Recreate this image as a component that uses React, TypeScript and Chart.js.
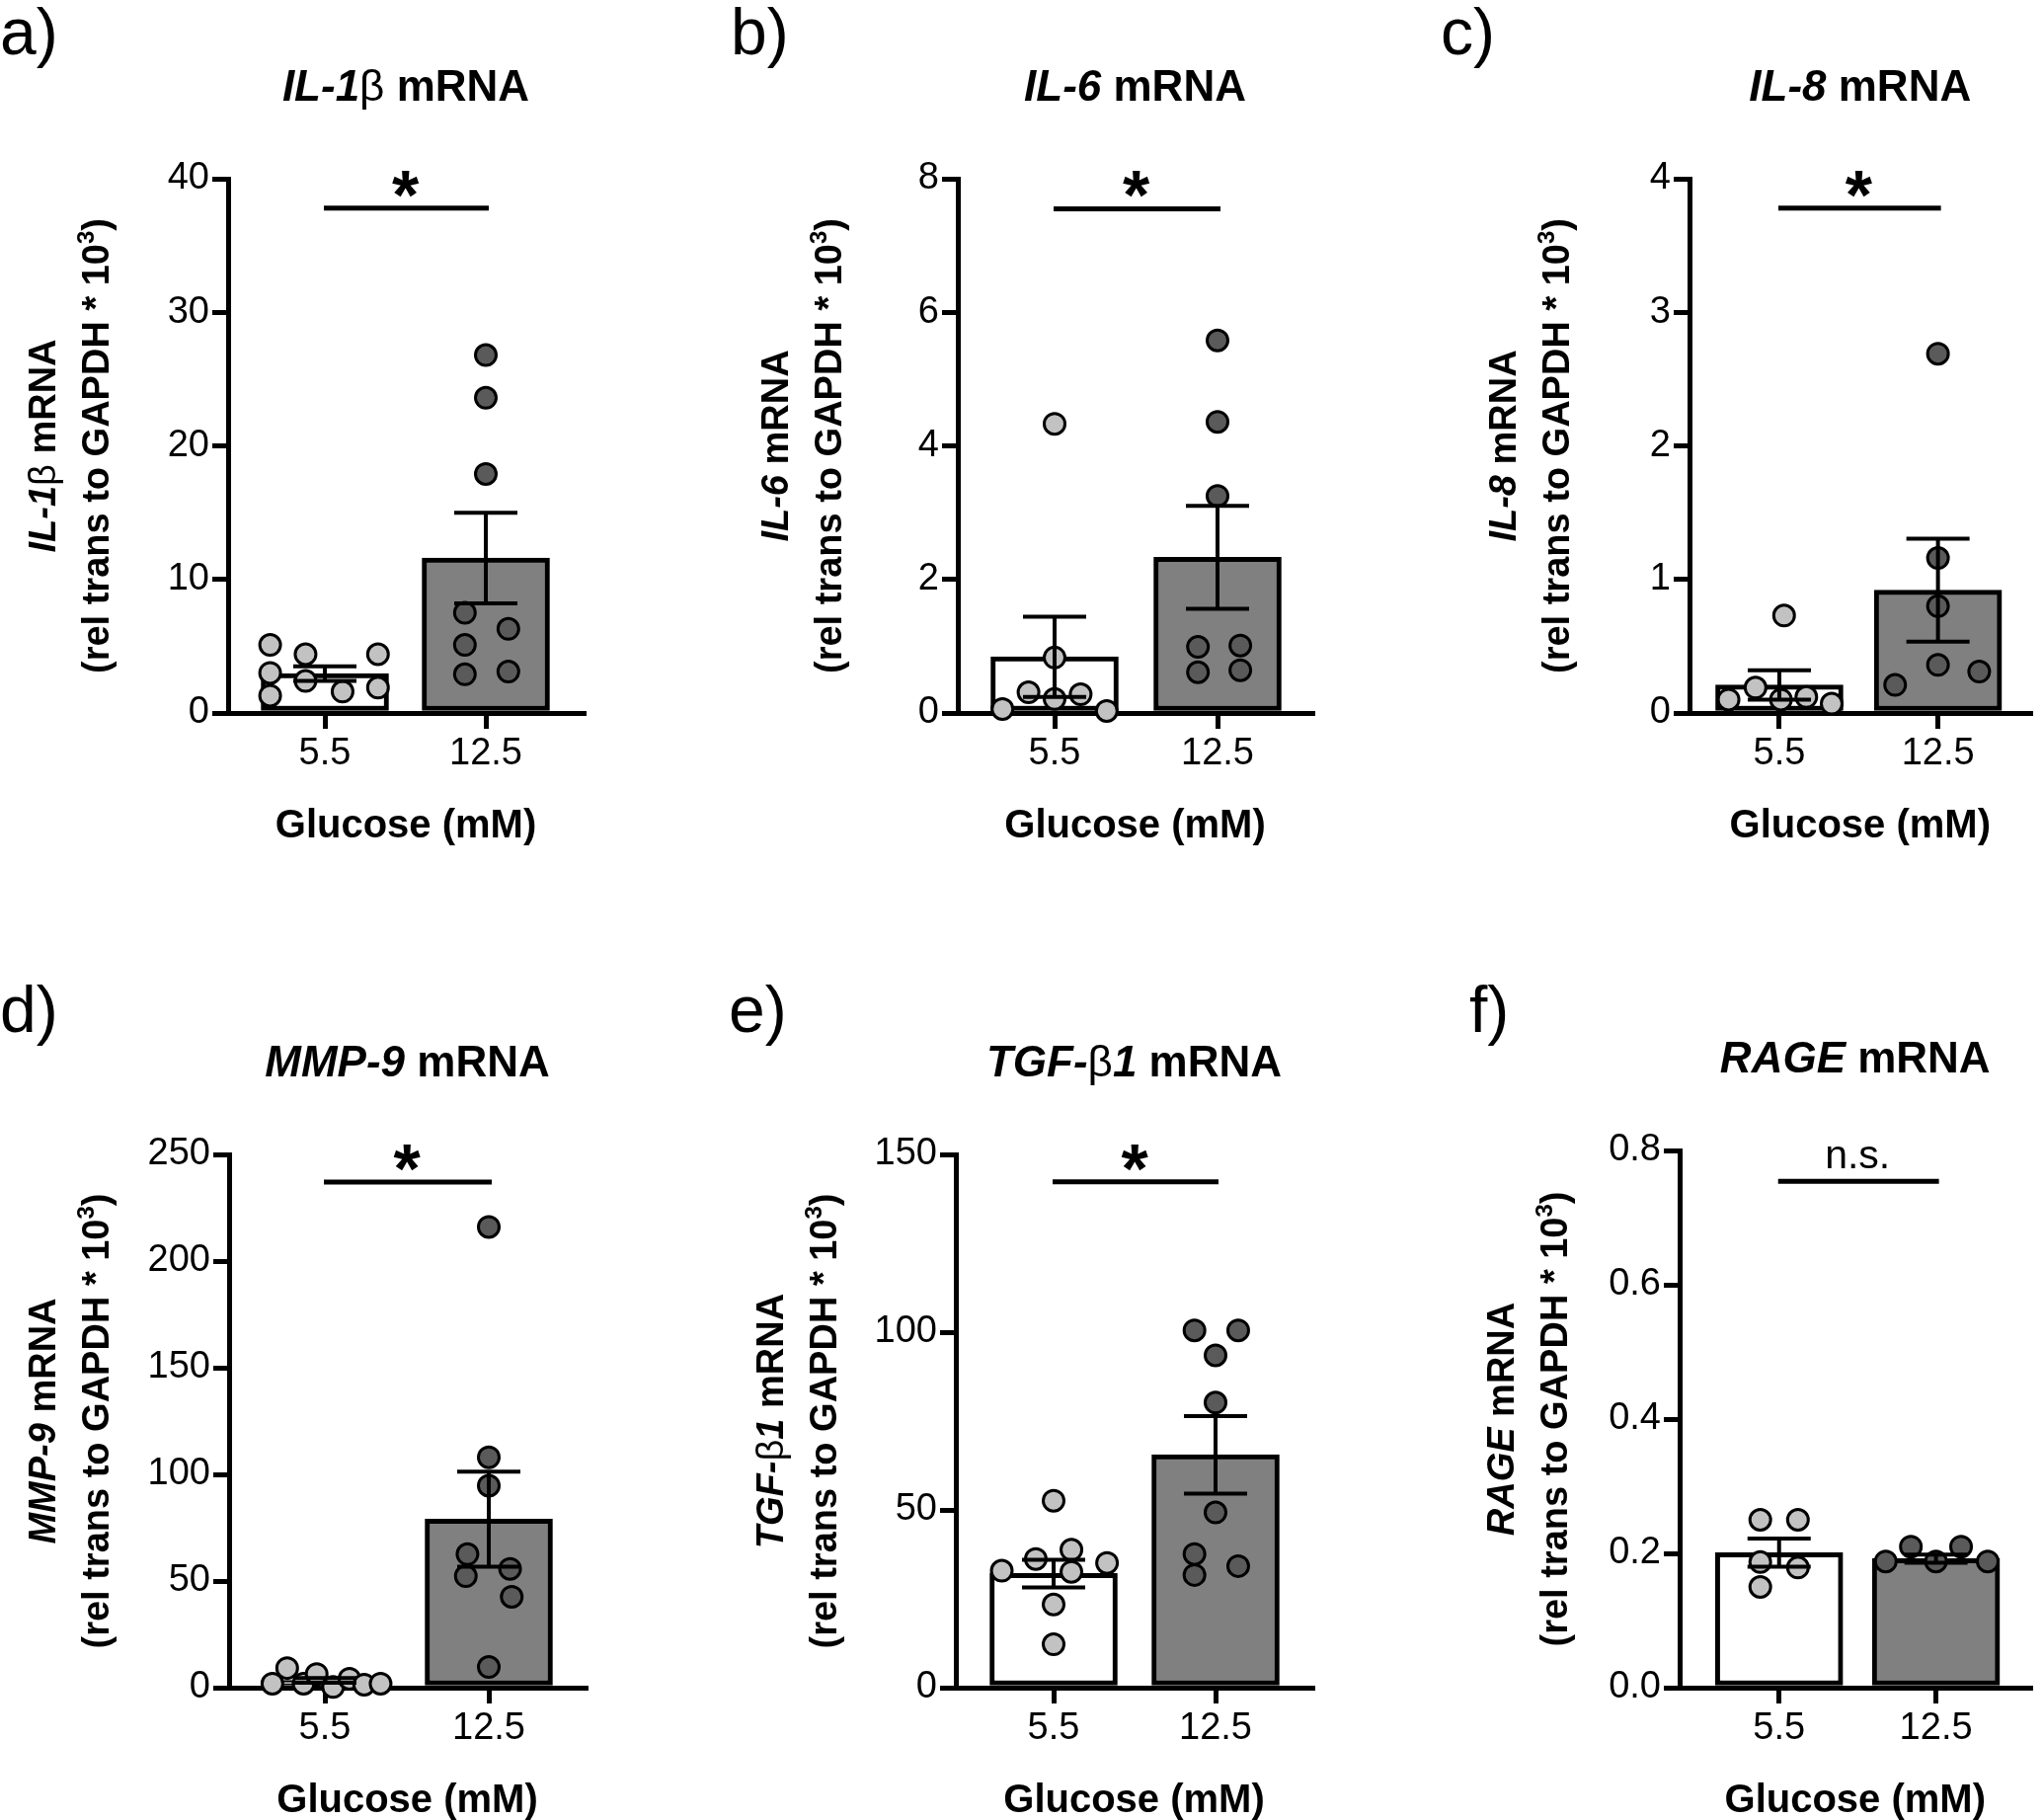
import React, { useEffect, useRef } from 'react';
import { Chart, registerables } from 'chart.js';

Chart.register(...registerables);

const FONT = '"Liberation Sans", Arial, Helvetica, sans-serif';

// ---------- data ----------
const GROUPS = ['5.5', '12.5'];
const X_AXIS_TITLE = 'Glucose (mM)';
const Y_TITLE_LINE2 = [['(rel trans to GAPDH * 10', 'b'], ['3', 'bs'], [')', 'b']];

// a) IL-1β
const IL1B_TITLE = [['IL-1', 'bi'], ['β', 'r'], [' mRNA', 'b']];
const IL1B_MEAN = [2.95, 11.6];
const IL1B_SEM = [0.55, 3.4];
const IL1B_LOW = [5.1, 4.4, 4.4, 3.0, 2.4, 1.9, 1.6, 1.3];
const IL1B_LOW_X = [-0.34, -0.12, 0.33, -0.34, -0.12, 0.33, 0.11, -0.34];
const IL1B_HIGH = [26.8, 23.6, 17.9, 7.5, 6.3, 5.1, 2.9, 3.1];
const IL1B_HIGH_X = [0, 0, 0, -0.13, 0.14, -0.13, -0.13, 0.14];

// b) IL-6
const IL6_TITLE = [['IL-6', 'bi'], [' mRNA', 'b']];
const IL6_MEAN = [0.84, 2.33];
const IL6_SEM = [0.6, 0.77];
const IL6_LOW = [4.33, 0.83, 0.31, 0.28, 0.21, 0.06, 0.03];
const IL6_LOW_X = [0, 0, -0.16, 0.16, 0, -0.32, 0.32];
const IL6_HIGH = [5.58, 4.36, 3.25, 0.99, 1.01, 0.61, 0.64];
const IL6_HIGH_X = [0, 0, 0, -0.12, 0.14, -0.12, 0.14];

// c) IL-8
const IL8_TITLE = [['IL-8', 'bi'], [' mRNA', 'b']];
const IL8_MEAN = [0.21, 0.92];
const IL8_SEM = [0.11, 0.385];
const IL8_LOW = [0.73, 0.19, 0.1, 0.1, 0.12, 0.07];
const IL8_LOW_X = [0.03, -0.15, -0.32, 0.01, 0.17, 0.33];
const IL8_HIGH = [2.69, 1.16, 0.8, 0.36, 0.21, 0.31];
const IL8_HIGH_X = [0, 0, 0, 0, -0.27, 0.26];

// d) MMP-9
const MMP9_TITLE = [['MMP-9', 'bi'], [' mRNA', 'b']];
const MMP9_MEAN = [3.4, 79];
const MMP9_SEM = [1.1, 22.3];
const MMP9_LOW = [1.9, 9.2, 1.9, 6.4, 0.3, 4.2, 1.4, 1.9];
const MMP9_LOW_X = [-0.32, -0.23, -0.13, -0.05, 0.05, 0.15, 0.24, 0.34];
const MMP9_HIGH = [216, 108, 94.7, 62.6, 52.3, 55.7, 42.6, 9.7];
const MMP9_HIGH_X = [0, 0, 0, -0.13, -0.14, 0.13, 0.14, 0];

// e) TGF-β1
const TGFB_TITLE = [['TGF-', 'bi'], ['β', 'r'], ['1', 'bi'], [' mRNA', 'b']];
const TGFB_MEAN = [32.1, 65.5];
const TGFB_SEM = [3.9, 10.9];
const TGFB_LOW = [52.6, 36.2, 38.8, 32.9, 35.1, 32.6, 23.4, 12.2];
const TGFB_LOW_X = [0, -0.11, 0.11, -0.32, 0.33, 0.11, 0, 0];
const TGFB_HIGH = [100.5, 100.5, 93.5, 80.2, 49.3, 37.6, 31.7, 34.2];
const TGFB_HIGH_X = [-0.13, 0.14, 0, 0, 0, -0.13, -0.13, 0.14];

// f) RAGE
const RAGE_TITLE = [['RAGE', 'bi'], [' mRNA', 'b']];
const RAGE_MEAN = [0.201, 0.192];
const RAGE_SEM = [0.021, 0.006];
const RAGE_LOW = [0.25, 0.25, 0.187, 0.179, 0.15];
const RAGE_LOW_X = [-0.12, 0.12, -0.12, 0.12, -0.12];
const RAGE_HIGH = [0.188, 0.21, 0.188, 0.21, 0.188];
const RAGE_HIGH_X = [-0.32, -0.16, 0, 0.16, 0.33];

const PANELS = [
  { letter: 'a)', title: IL1B_TITLE, mean: IL1B_MEAN, sem: IL1B_SEM, low: IL1B_LOW, lowX: IL1B_LOW_X, high: IL1B_HIGH, highX: IL1B_HIGH_X, yMax: 40, yStep: 10, dec: 0, sig: '*', sigLevel: 37.8 },
  { letter: 'b)', title: IL6_TITLE, mean: IL6_MEAN, sem: IL6_SEM, low: IL6_LOW, lowX: IL6_LOW_X, high: IL6_HIGH, highX: IL6_HIGH_X, yMax: 8, yStep: 2, dec: 0, sig: '*', sigLevel: 7.55 },
  { letter: 'c)', title: IL8_TITLE, mean: IL8_MEAN, sem: IL8_SEM, low: IL8_LOW, lowX: IL8_LOW_X, high: IL8_HIGH, highX: IL8_HIGH_X, yMax: 4, yStep: 1, dec: 0, sig: '*', sigLevel: 3.78 },
  { letter: 'd)', title: MMP9_TITLE, mean: MMP9_MEAN, sem: MMP9_SEM, low: MMP9_LOW, lowX: MMP9_LOW_X, high: MMP9_HIGH, highX: MMP9_HIGH_X, yMax: 250, yStep: 50, dec: 0, sig: '*', sigLevel: 237 },
  { letter: 'e)', title: TGFB_TITLE, mean: TGFB_MEAN, sem: TGFB_SEM, low: TGFB_LOW, lowX: TGFB_LOW_X, high: TGFB_HIGH, highX: TGFB_HIGH_X, yMax: 150, yStep: 50, dec: 0, sig: '*', sigLevel: 142.3 },
  { letter: 'f)', title: RAGE_TITLE, mean: RAGE_MEAN, sem: RAGE_SEM, low: RAGE_LOW, lowX: RAGE_LOW_X, high: RAGE_HIGH, highX: RAGE_HIGH_X, yMax: 0.8, yStep: 0.2, dec: 1, sig: 'n.s.', sigLevel: 0.754 },
];

// ---------- layout (page pixel positions) ----------
const LAYOUT = [
  { canvas: [0, 0, 700, 921], axisX: 231, plotRight: 591, yTop: 181, yBottom: 722, t0: 98, t1: 261, labelX: 0, labelBase: 55, yTitleDx: -189 },
  { canvas: [700, 0, 720, 921], axisX: 970, plotRight: 1329, yTop: 181, yBottom: 722, t0: 98, t1: 263, labelX: 740, labelBase: 55, yTitleDx: -186 },
  { canvas: [1420, 0, 650, 921], axisX: 1711, plotRight: 2068, yTop: 181, yBottom: 722, t0: 94, t1: 260, labelX: 1459, labelBase: 55, yTitleDx: -190 },
  { canvas: [0, 921, 700, 922], axisX: 232, plotRight: 593, yTop: 1169, yBottom: 1709, t0: 97, t1: 263, labelX: 0, labelBase: 1045, yTitleDx: -190 },
  { canvas: [700, 921, 720, 922], axisX: 968, plotRight: 1329, yTop: 1169, yBottom: 1709, t0: 99, t1: 263, labelX: 738, labelBase: 1045, yTitleDx: -189 },
  { canvas: [1420, 921, 650, 922], axisX: 1701, plotRight: 2068, yTop: 1165, yBottom: 1709, t0: 104, t1: 268, labelX: 1488, labelBase: 1045, yTitleDx: -182 },
];

const Y_W = 100;
const X_H = 60;
const CAP = 64;
const TICK_FONT = 38;
const TITLE_FONT = 44;
const AXIS_TITLE_FONT = 38;
const X_TITLE_FONT = 40;
const LETTER_FONT = 66;

function fontFor(style: string, size: number) {
  const it = style.includes('i') ? 'italic ' : '';
  const bd = style.includes('b') ? 'bold ' : '';
  const s = style.includes('s') ? Math.round(size * 0.62) : size;
  return `${it}${bd}${s}px ${FONT}`;
}

function drawRich(ctx: CanvasRenderingContext2D, segs: any[], x: number, y: number, size: number) {
  ctx.textAlign = 'left';
  ctx.textBaseline = 'alphabetic';
  let total = 0;
  for (const [t, st] of segs) {
    ctx.font = fontFor(st, size);
    total += ctx.measureText(t).width;
  }
  let cx = x - total / 2;
  for (const [t, st] of segs) {
    ctx.font = fontFor(st, size);
    const dy = st.includes('s') ? -size * 0.4 : 0;
    ctx.fillText(t, cx, y + dy);
    cx += ctx.measureText(t).width;
  }
}

function makeDecor(p: any, L: any) {
  const ox = L.canvas[0];
  const oy = L.canvas[1];
  return {
    id: 'decor',
    afterDatasetsDraw(chart: any) {
      const ctx = chart.ctx;
      const xs = chart.scales.x;
      const ys = chart.scales.y;
      ctx.save();
      ctx.strokeStyle = '#000';
      ctx.lineWidth = 4;
      p.mean.forEach((m: number, i: number) => {
        const x = xs.getPixelForValue(i);
        const yT = ys.getPixelForValue(m + p.sem[i]);
        const yB = ys.getPixelForValue(m - p.sem[i]);
        ctx.beginPath();
        ctx.moveTo(x, yT);
        ctx.lineTo(x, yB);
        ctx.moveTo(x - CAP / 2, yT);
        ctx.lineTo(x + CAP / 2, yT);
        ctx.moveTo(x - CAP / 2, yB);
        ctx.lineTo(x + CAP / 2, yB);
        ctx.stroke();
      });
      ctx.restore();
    },
    afterDraw(chart: any) {
      const ctx = chart.ctx;
      const xs = chart.scales.x;
      const ys = chart.scales.y;
      const area = chart.chartArea;
      const midX = (area.left + area.right) / 2;
      ctx.save();
      ctx.fillStyle = '#000';
      ctx.strokeStyle = '#000';

      // significance bar
      const x0 = xs.getPixelForValue(0);
      const x1 = xs.getPixelForValue(GROUPS.length - 1);
      const sy = ys.getPixelForValue(p.sigLevel);
      ctx.lineWidth = 5;
      ctx.beginPath();
      ctx.moveTo(x0 - 1, sy);
      ctx.lineTo(x1 + 3, sy);
      ctx.stroke();
      ctx.textAlign = 'center';
      ctx.textBaseline = 'alphabetic';
      const sx = (x0 + x1) / 2;
      if (p.sig === '*') {
        ctx.font = `bold 70px ${FONT}`;
        ctx.fillText('*', sx, sy + 11);
      } else {
        ctx.font = `41px ${FONT}`;
        ctx.fillText(p.sig, sx, sy - 13);
      }

      // panel title
      drawRich(ctx, p.title, midX, L.yTop - 79 - oy, TITLE_FONT);

      // x axis title
      ctx.textAlign = 'center';
      ctx.font = `bold ${X_TITLE_FONT}px ${FONT}`;
      ctx.fillText(X_AXIS_TITLE, midX, L.yBottom + 126 - oy);

      // y axis title (two lines, rotated)
      const cy = (area.top + area.bottom) / 2;
      const base1 = L.axisX + L.yTitleDx - ox + 14;
      const base2 = base1 + 54;
      [[p.title, base1], [Y_TITLE_LINE2, base2]].forEach(([segs, bx]: any) => {
        ctx.save();
        ctx.translate(bx, cy);
        ctx.rotate(-Math.PI / 2);
        drawRich(ctx, segs, 0, 0, AXIS_TITLE_FONT);
        ctx.restore();
      });

      // panel letter
      ctx.textAlign = 'left';
      ctx.textBaseline = 'alphabetic';
      ctx.font = `${LETTER_FONT}px ${FONT}`;
      ctx.fillText(p.letter, L.labelX - ox, L.labelBase - oy);
      ctx.restore();
    },
  };
}

function Panel({ p, L }: { p: any; L: any }) {
  const ref = useRef<HTMLCanvasElement | null>(null);
  useEffect(() => {
    const [cl, ct, cw, ch] = L.canvas;
    const plotW = L.plotRight - L.axisX;
    const unit = L.t1 - L.t0;
    const xMin = -L.t0 / unit;
    const xMax = (plotW - L.t0) / unit;
    const gridOpts = { display: true, offset: false, drawOnChartArea: false, drawTicks: true, tickLength: 16, tickWidth: 5, tickColor: '#000', color: '#000', lineWidth: 5 };
    const chart = new Chart(ref.current as HTMLCanvasElement, {
      type: 'bar',
      data: {
        datasets: [
          {
            type: 'bar',
            data: p.mean.map((m: number, i: number) => ({ x: i, y: m })),
            backgroundColor: ['#ffffff', '#808080'],
            borderColor: '#000000',
            borderWidth: 5,
            borderSkipped: false,
            barThickness: 129,
            order: 3,
          } as any,
          {
            type: 'scatter',
            data: p.low.map((v: number, k: number) => ({ x: 0 + p.lowX[k], y: v })),
            pointRadius: 10.5,
            pointBackgroundColor: '#c2c2c2',
            pointBorderColor: '#000000',
            pointBorderWidth: 3,
            clip: false,
            order: 2,
          } as any,
          {
            type: 'scatter',
            data: p.high.map((v: number, k: number) => ({ x: 1 + p.highX[k], y: v })),
            pointRadius: 10.5,
            pointBackgroundColor: '#5a5a5a',
            pointBorderColor: '#000000',
            pointBorderWidth: 3,
            clip: false,
            order: 1,
          } as any,
        ],
      },
      options: {
        responsive: false,
        animation: false,
        events: [],
        layout: {
          padding: {
            left: L.axisX - cl - Y_W,
            right: cl + cw - L.plotRight,
            top: L.yTop - ct,
            bottom: ct + ch - L.yBottom - X_H,
          },
        },
        plugins: { legend: { display: false }, tooltip: { enabled: false } },
        scales: {
          x: {
            type: 'linear',
            offset: false,
            min: xMin,
            max: xMax,
            afterBuildTicks: (s: any) => {
              s.ticks = GROUPS.map((_, i) => ({ value: i }));
            },
            afterFit: (s: any) => {
              s.height = X_H;
            },
            ticks: {
              autoSkip: false,
              maxRotation: 0,
              padding: 3,
              color: '#000',
              font: { family: FONT, size: TICK_FONT },
              callback: (v: any) => GROUPS[Math.round(Number(v))] ?? '',
            },
            grid: gridOpts,
            border: { display: true, width: 5, color: '#000' },
          },
          y: {
            type: 'linear',
            min: 0,
            max: p.yMax,
            afterFit: (s: any) => {
              s.width = Y_W;
            },
            ticks: {
              stepSize: p.yStep,
              padding: 3,
              color: '#000',
              font: { family: FONT, size: TICK_FONT },
              callback: (v: any) => Number(v).toFixed(p.dec),
            },
            grid: gridOpts,
            border: { display: true, width: 5, color: '#000' },
          },
        },
      } as any,
      plugins: [makeDecor(p, L)],
    });
    return () => chart.destroy();
  }, [p, L]);
  const [cl, ct, cw, ch] = L.canvas;
  return (
    <canvas
      ref={ref}
      width={cw}
      height={ch}
      style={{ position: 'absolute', left: cl, top: ct, width: cw, height: ch }}
    />
  );
}

export default function App() {
  return (
    <div style={{ position: 'absolute', left: 0, top: 0, width: 2070, height: 1843, background: '#ffffff', overflow: 'hidden' }}>
      {PANELS.map((p, i) => (
        <Panel key={i} p={p} L={LAYOUT[i]} />
      ))}
    </div>
  );
}
